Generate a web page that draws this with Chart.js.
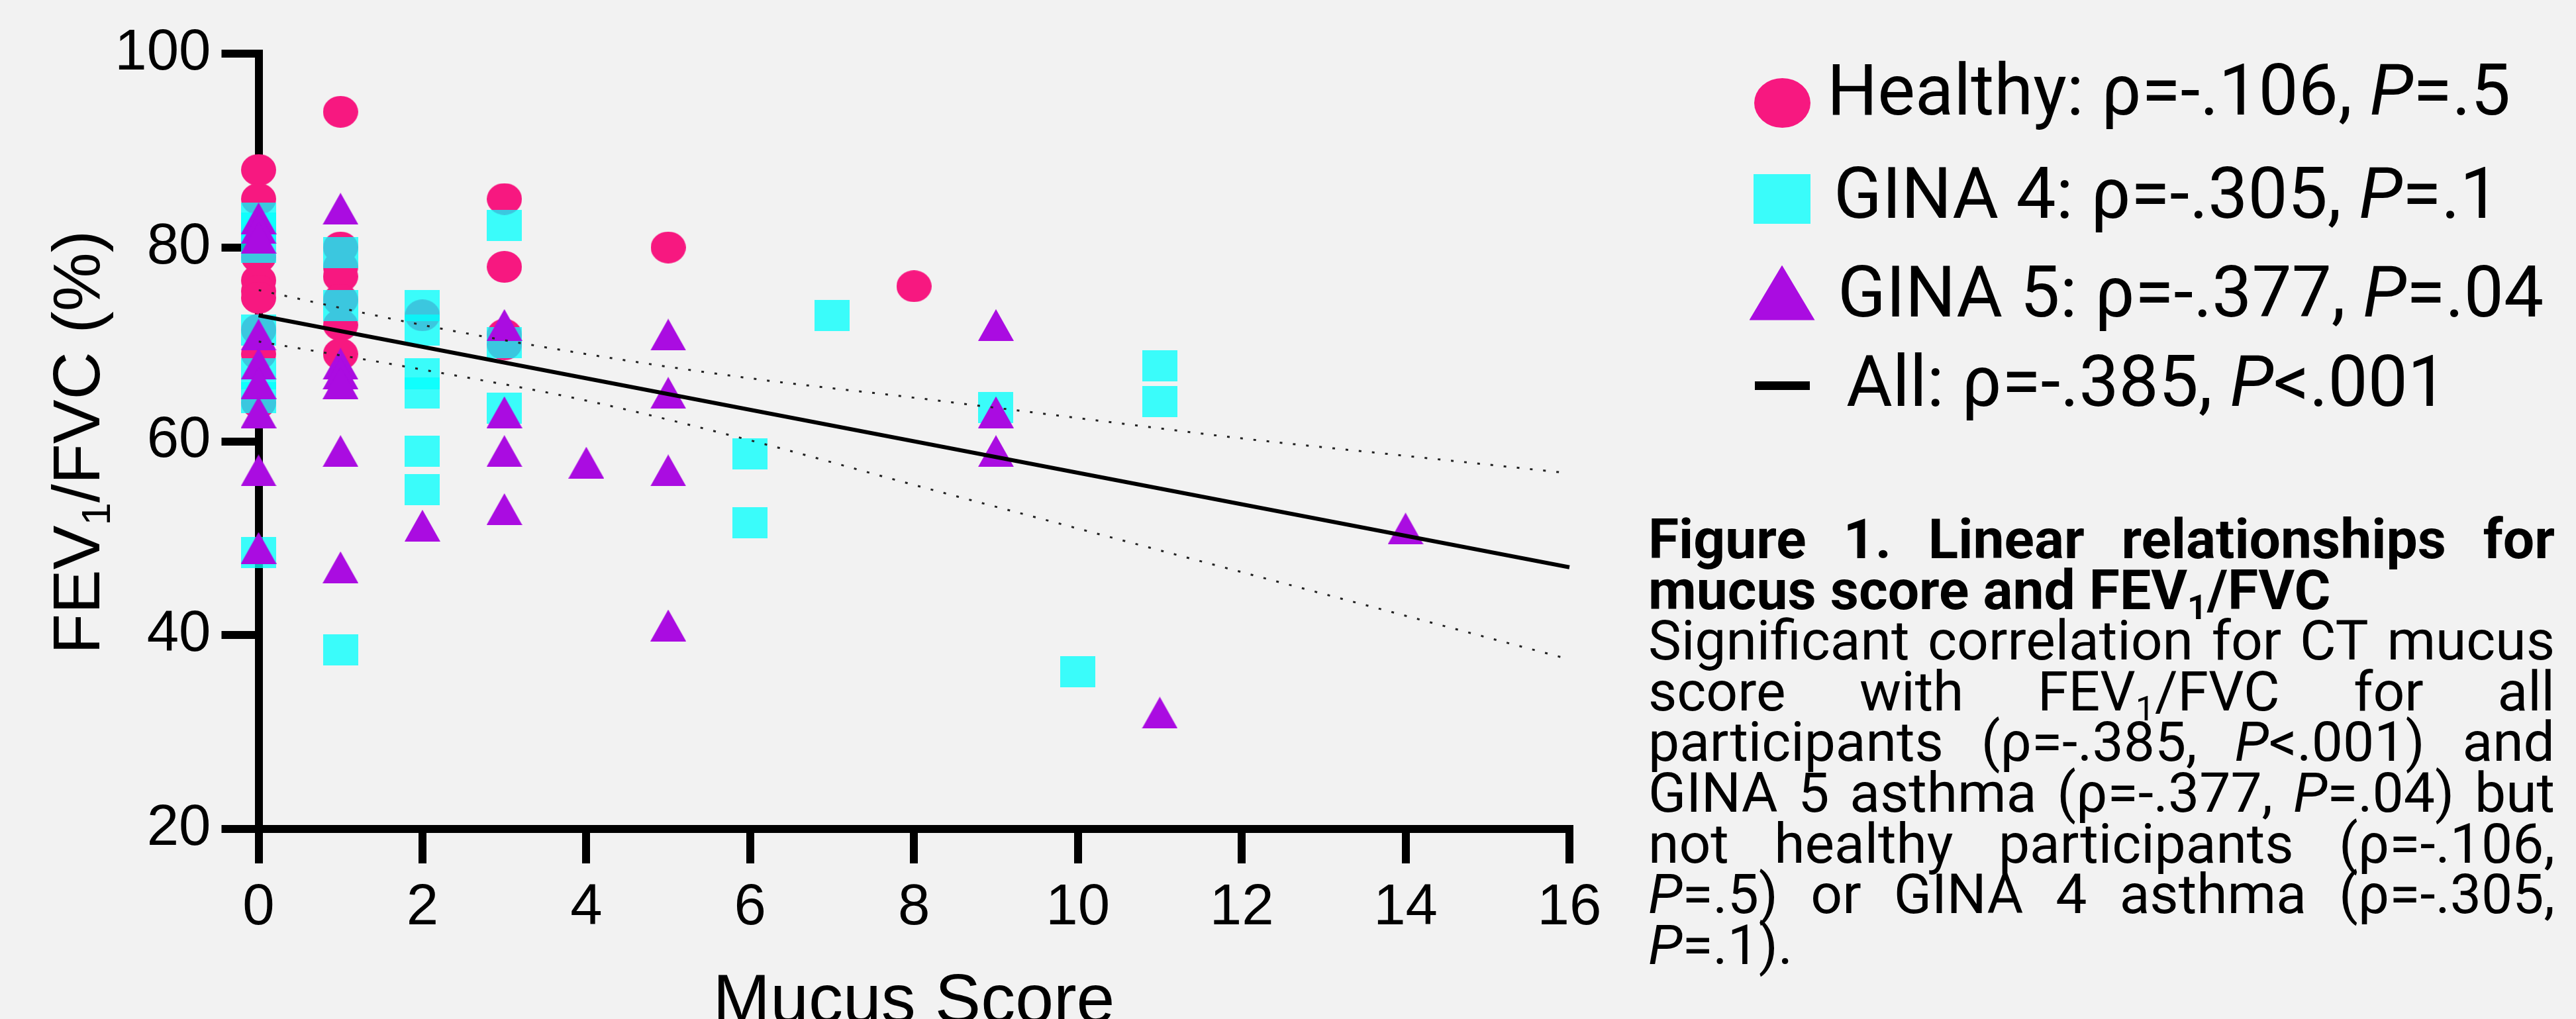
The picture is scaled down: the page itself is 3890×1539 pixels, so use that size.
<!DOCTYPE html>
<html>
<head>
<meta charset="utf-8">
<script src="https://cdn.jsdelivr.net/npm/chart.js@4.4.0/dist/chart.umd.min.js"></script>
<style>
  html, body { margin: 0; padding: 0; }
  body {
    width: 3890px; height: 1539px; overflow: hidden;
    background: #f2f2f2; position: relative; color: #000;
  }
  #chartBox { position: absolute; left: 0; top: 0; width: 2480px; height: 1539px; }
  .ytitle {
    position: absolute; left: 115px; top: 668px;
    transform: translate(-50%, -50%) rotate(-90deg);
    font: 100px/100px 'Liberation Sans', Arial, sans-serif; white-space: nowrap;
  }
  .ytitle sub { font-size: 0.62em; vertical-align: -0.25em; line-height: 0; }
  .xtitle {
    position: absolute; left: 1380px; top: 1456px; transform: translateX(-50%);
    font: 104px/104px 'Liberation Sans', Arial, sans-serif; white-space: nowrap;
  }
  .mark { position: absolute; }
  .legText {
    position: absolute; font: 107px/107px Roboto, sans-serif; white-space: nowrap;
  }
  #caption {
    position: absolute; left: 2489px; top: 777px; width: 1369px;
    font: 84px/76.6px Roboto, sans-serif;
  }
  #caption .line { display: flex; justify-content: space-between; white-space: nowrap; height: 76.6px; }
  #caption .left { justify-content: flex-start; }
  #caption .left span { margin-right: 0.25em; }
  #caption .bold { font-weight: bold; }
  #caption sub { font-size: 0.62em; vertical-align: -0.28em; line-height: 0; }
</style>
</head>
<body>
<div id="chartBox"><canvas id="chart"></canvas></div>
<div class="ytitle">FEV<sub>1</sub>/FVC (%)</div>
<div class="xtitle">Mucus Score</div>
<div id="legend"></div>
<div id="caption"></div>

<script>
  const xTicks = [0, 2, 4, 6, 8, 10, 12, 14, 16];
  const yTicks = [20, 40, 60, 80, 100];

  // Healthy (circles)
  const healthyScore = [0, 0, 0, 0, 0, 0, 0, 0, 0, 1, 1, 1, 1, 1, 1, 1, 2, 3, 3, 3, 3, 5, 8];
  const healthyRatio = [88, 85, 79, 76.6, 75.5, 74.8, 71.5, 69, 64, 94, 80, 78, 77, 74.6, 72, 69, 73, 85, 78, 71, 70, 80, 76];

  // GINA 4 (squares)
  const gina4Score = [0, 0, 0, 0, 0, 0, 0, 1, 1, 1, 2, 2, 2, 2, 2, 2, 3, 3, 3, 6, 6, 7, 9, 10, 11, 11];
  const gina4Ratio = [83, 82, 80, 71.5, 67, 64.5, 48.5, 79.5, 74, 38.5, 74, 71.5, 67, 65, 59, 55, 82.3, 70.2, 63.4, 58.7, 51.6, 73, 63.5, 36.2, 67.8, 64.1];

  // GINA 5 (triangles)
  const gina5Score = [0, 0, 0, 0, 0, 0, 0, 0, 0, 1, 1, 1, 1, 1, 1, 2, 3, 3, 3, 3, 4, 5, 5, 5, 5, 9, 9, 9, 11, 14];
  const gina5Ratio = [83, 82, 81, 71, 68, 66, 63, 57, 49, 84, 68, 67, 66, 59, 47, 51.3, 72, 63, 59, 53, 57.8, 71, 65, 57, 41, 72, 63, 59, 32, 51];

  // regression for all participants and its confidence band
  const fitScore = [0, 16];
  const fitRatio = [73.0, 47.0];
  const bandScore = [0, 2, 4, 6, 8, 10, 12, 14, 16];
  const bandUpper = [75.6, 72.0, 69.0, 66.5, 64.5, 62.4, 60.3, 58.5, 56.7];
  const bandLower = [70.3, 67.4, 64.2, 60.1, 55.5, 51.0, 46.5, 42.0, 37.5];

  const groupNames = ['Healthy', 'GINA 4', 'GINA 5', 'All'];
  const rhoValues = ['-.106', '-.305', '-.377', '-.385'];
  const pValues = ['=.5', '=.1', '=.04', '<.001'];

  const PINK = 'rgb(247, 24, 128)';
  const CYAN = 'rgba(0, 255, 252, 0.76)';
  const PURPLE = 'rgb(170, 12, 225)';

  function markerCanvas(shape, w, h, fill) {
    const c = document.createElement('canvas');
    c.width = w;
    c.height = h;
    const g = c.getContext('2d');
    g.fillStyle = fill;
    g.beginPath();
    if (shape === 'ellipse') {
      g.ellipse(w / 2, h / 2, w / 2, h / 2, 0, 0, Math.PI * 2);
    } else if (shape === 'rect') {
      g.rect(0, 0, w, h);
    } else {
      g.moveTo(w / 2, 0);
      g.lineTo(w, h);
      g.lineTo(0, h);
      g.closePath();
    }
    g.fill();
    return c;
  }

  function points(xs, ys) {
    return xs.map((x, i) => ({ x: x, y: ys[i] }));
  }

  const axisFont = { family: "'Liberation Sans', Arial, sans-serif", size: 87 };

  function axisStyle(tickLength) {
    return {
      grid: {
        display: true, drawOnChartArea: false, drawTicks: true,
        tickLength: tickLength, tickWidth: 12, tickColor: '#000', color: '#000', lineWidth: 12
      },
      border: { display: true, width: 12, color: '#000' },
      ticks: { color: '#000', font: axisFont, padding: 16, autoSkip: false, maxRotation: 0 }
    };
  }

  new Chart(document.getElementById('chart'), {
    type: 'scatter',
    data: {
      datasets: [
        {
          type: 'line', label: groupNames[3], data: points(fitScore, fitRatio),
          borderColor: '#000', borderWidth: 6, pointRadius: 0, order: 0, clip: false
        },
        {
          type: 'line', label: 'upper', data: points(bandScore, bandUpper),
          borderColor: '#222', borderWidth: 3, borderDash: [4, 16], pointRadius: 0,
          cubicInterpolationMode: 'monotone', order: 1
        },
        {
          type: 'line', label: 'lower', data: points(bandScore, bandLower),
          borderColor: '#222', borderWidth: 3, borderDash: [4, 16], pointRadius: 0,
          cubicInterpolationMode: 'monotone', order: 1
        },
        {
          label: groupNames[2], data: points(gina5Score, gina5Ratio),
          pointStyle: markerCanvas('triangle', 54, 48, PURPLE), pointRadius: 27, order: 2, clip: false
        },
        {
          label: groupNames[1], data: points(gina4Score, gina4Ratio),
          pointStyle: markerCanvas('rect', 53, 47, CYAN), pointRadius: 27, order: 3, clip: false
        },
        {
          label: groupNames[0], data: points(healthyScore, healthyRatio),
          pointStyle: markerCanvas('ellipse', 53, 48, PINK), pointRadius: 27, order: 4, clip: false
        }
      ]
    },
    options: {
      responsive: true,
      maintainAspectRatio: false,
      animation: false,
      events: [],
      layout: { padding: { top: 81, right: 110, left: 0, bottom: 0 } },
      plugins: { legend: { display: false }, tooltip: { enabled: false } },
      scales: {
        x: Object.assign(axisStyle(52), {
          type: 'linear', min: 0, max: 16,
          afterBuildTicks: s => { s.ticks = xTicks.map(v => ({ value: v })); },
          afterFit: s => { s.height = 287; }
        }),
        y: Object.assign(axisStyle(56), {
          type: 'linear', min: 20, max: 100,
          afterBuildTicks: s => { s.ticks = yTicks.map(v => ({ value: v })); },
          afterFit: s => { s.width = 390.5; }
        })
      }
    }
  });

  // legend
  const legend = document.getElementById('legend');
  const legendMarks = [
    { cx: 2691, cy: 155, w: 85, h: 75, css: 'border-radius:50%;background:' + PINK },
    { cx: 2691, cy: 300, w: 86, h: 75, css: 'background:' + CYAN },
    { cx: 2691, cy: 442, w: 99, h: 83, css: 'clip-path:polygon(50% 0,100% 100%,0 100%);background:' + PURPLE },
    { cx: 2691, cy: 582, w: 83, h: 13, css: 'background:#000' }
  ];
  const legendBaseline = [173, 329, 478, 613];
  const legendLeft = [2759, 2769, 2775, 2788];
  groupNames.forEach((name, i) => {
    const m = legendMarks[i];
    const mark = document.createElement('div');
    mark.className = 'mark';
    mark.style.cssText = `left:${m.cx - m.w / 2}px;top:${m.cy - m.h / 2}px;width:${m.w}px;height:${m.h}px;` + m.css;
    legend.appendChild(mark);
    const txt = document.createElement('div');
    txt.className = 'legText';
    txt.style.left = legendLeft[i] + 'px';
    txt.style.top = (legendBaseline[i] - 90) + 'px';
    txt.innerHTML = `${name}: ρ=${rhoValues[i]}, <i>P</i>${pValues[i]}`;
    legend.appendChild(txt);
  });

  // caption, one array of words per printed line
  const captionLines = [
    { bold: true, words: ['Figure', '1.', 'Linear', 'relationships', 'for'] },
    { bold: true, left: true, words: ['mucus', 'score', 'and', 'FEV<sub>1</sub>/FVC'] },
    { words: ['Significant', 'correlation', 'for', 'CT', 'mucus'] },
    { words: ['score', 'with', 'FEV<sub>1</sub>/FVC', 'for', 'all'] },
    { words: ['participants', '(ρ=-.385,', '<i>P</i>&lt;.001)', 'and'] },
    { words: ['GINA', '5', 'asthma', '(ρ=-.377,', '<i>P</i>=.04)', 'but'] },
    { words: ['not', 'healthy', 'participants', '(ρ=-.106,'] },
    { words: ['<i>P</i>=.5)', 'or', 'GINA', '4', 'asthma', '(ρ=-.305,'] },
    { left: true, words: ['<i>P</i>=.1).'] }
  ];
  const caption = document.getElementById('caption');
  captionLines.forEach(line => {
    const div = document.createElement('div');
    div.className = 'line' + (line.bold ? ' bold' : '') + (line.left ? ' left' : '');
    div.innerHTML = line.words.map(w => `<span>${w}</span>`).join('');
    caption.appendChild(div);
  });
</script>
</body>
</html>
